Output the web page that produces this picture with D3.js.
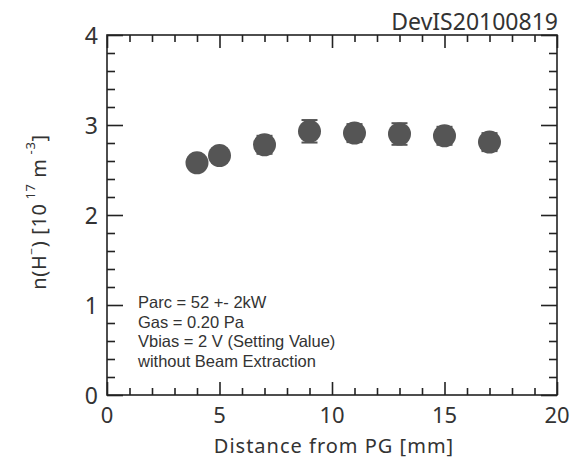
<!DOCTYPE html>
<html lang="en">
<head>
<meta charset="UTF-8">
<title>n(H-) vs distance from PG</title>
<script src="https://cdn.jsdelivr.net/npm/d3@7"></script>
<style>
  body { margin: 0; background: #fff; }
  text { font-family: "Noto Sans", "DejaVu Sans", sans-serif; fill: #333; }
  .note { font-family: "Liberation Sans", Arial, sans-serif; }
</style>
</head>
<body>
<script>
// data
const distance = [4, 5, 7, 9, 11, 13, 15, 17];
const density = [2.58, 2.66, 2.78, 2.93, 2.91, 2.90, 2.88, 2.81];
const errors = [0.08, 0.08, 0.1, 0.125, 0.1, 0.12, 0.1, 0.1];
const xTicks = [0, 5, 10, 15, 20];
const yTicks = [0, 1, 2, 3, 4];
const notes = ["Parc = 52 +- 2kW", "Gas = 0.20 Pa", "Vbias = 2 V (Setting Value)", "without Beam Extraction"];

const width = 578, height = 463;
const margin = {top: 35, right: 21, bottom: 68, left: 107};
const w = width - margin.left - margin.right;
const h = height - margin.top - margin.bottom;

const svg = d3.select("body").append("svg")
    .attr("width", width)
    .attr("height", height);

const g = svg.append("g")
    .attr("transform", `translate(${margin.left},${margin.top})`);

const x = d3.scaleLinear().domain([0, 20]).range([0, w]);
const y = d3.scaleLinear().domain([0, 4]).range([h, 0]);

const axisColor = "#222";

// ticks pointing inward, on all four sides
function drawTicks() {
  const minorX = d3.range(0, 21, 1).filter(v => v % 5 !== 0);
  const minorY = d3.range(0, 4.01, 0.2).map(v => +v.toFixed(1)).filter(v => v % 1 !== 0);

  const list = [
    [d3.axisBottom(x).tickValues(xTicks).tickSize(-13), `translate(0,${h})`],
    [d3.axisBottom(x).tickValues(minorX).tickSize(-7), `translate(0,${h})`],
    [d3.axisTop(x).tickValues(xTicks).tickSize(-13), null],
    [d3.axisTop(x).tickValues(minorX).tickSize(-7), null],
    [d3.axisLeft(y).tickValues(yTicks).tickSize(-16), null],
    [d3.axisLeft(y).tickValues(minorY).tickSize(-8), null],
    [d3.axisRight(y).tickValues(yTicks).tickSize(-16), `translate(${w},0)`],
    [d3.axisRight(y).tickValues(minorY).tickSize(-8), `translate(${w},0)`]
  ];
  list.forEach(([ax, tr]) => {
    const a = g.append("g").call(ax.tickSizeOuter(0).tickFormat(""));
    if (tr) a.attr("transform", tr);
    a.select(".domain").remove();
    a.selectAll("line").attr("stroke", axisColor).attr("stroke-width", 1.6);
  });

  g.append("rect")
    .attr("width", w).attr("height", h)
    .attr("fill", "none")
    .attr("stroke", axisColor)
    .attr("stroke-width", 1.6);
}
drawTicks();

// tick labels
g.selectAll(".xlab").data(xTicks).enter().append("text")
    .attr("x", d => x(d))
    .attr("y", h + 28)
    .attr("text-anchor", "middle")
    .style("font-size", "22px")
    .text(d => d);

g.selectAll(".ylab").data(yTicks).enter().append("text")
    .attr("x", -9)
    .attr("y", d => y(d) + 9)
    .attr("text-anchor", "end")
    .style("font-size", "23px")
    .text(d => d);

// axis titles
svg.append("text")
    .attr("x", margin.left + w / 2 + 2)
    .attr("y", 453)
    .attr("text-anchor", "middle")
    .style("font-size", "20px")
    .style("letter-spacing", "1px")
    .text("Distance from PG [mm]");

const yTitle = svg.append("text")
    .attr("transform", `translate(46,${margin.top + h / 2 - 3}) rotate(-90)`)
    .attr("text-anchor", "middle")
    .style("font-size", "20px")
    .style("letter-spacing", "0.6px");
yTitle.append("tspan").text("n(H");
yTitle.append("tspan").attr("dy", -10).style("font-size", "12px").text("−");
yTitle.append("tspan").attr("dy", 10).text(") [10");
yTitle.append("tspan").attr("dy", -11).style("font-size", "13px").text(" 17");
yTitle.append("tspan").attr("dy", 11).text("  m");
yTitle.append("tspan").attr("dy", -11).style("font-size", "13px").text(" -3");
yTitle.append("tspan").attr("dy", 11).text("]");

// run label
svg.append("text")
    .attr("x", 558)
    .attr("y", 30)
    .attr("text-anchor", "end")
    .style("font-size", "23px")
    .text("DevIS20100819");

// annotation
g.selectAll(".note").data(notes).enter().append("text")
    .attr("class", "note")
    .attr("x", 31)
    .attr("y", (d, i) => 273 + i * 19.6)
    .style("font-size", "16.5px")
    .text(d => d);

// error bars and points
const pts = distance.map((d, i) => ({x: d, y: density[i], e: errors[i]}));
const markColor = "#555";

g.selectAll(".err").data(pts).enter().append("line")
    .attr("x1", d => x(d.x)).attr("x2", d => x(d.x))
    .attr("y1", d => y(d.y - d.e)).attr("y2", d => y(d.y + d.e))
    .attr("stroke", markColor).attr("stroke-width", 2);

[-1, 1].forEach(s => {
  g.selectAll(".cap" + s).data(pts).enter().append("line")
      .attr("x1", d => x(d.x) - 8).attr("x2", d => x(d.x) + 8)
      .attr("y1", d => y(d.y + s * d.e)).attr("y2", d => y(d.y + s * d.e))
      .attr("stroke", markColor).attr("stroke-width", 2);
});

g.selectAll(".pt").data(pts).enter().append("circle")
    .attr("cx", d => x(d.x))
    .attr("cy", d => y(d.y))
    .attr("r", 11.5)
    .attr("fill", markColor);
</script>
</body>
</html>
